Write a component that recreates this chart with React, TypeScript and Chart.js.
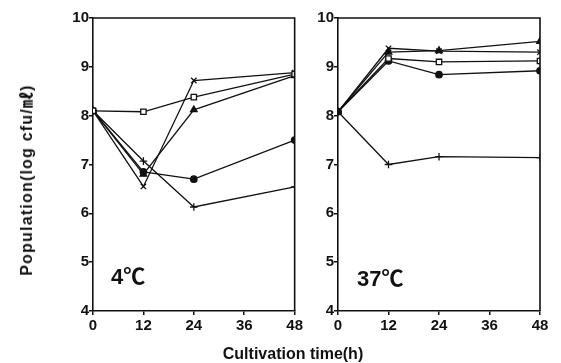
import React, { useEffect, useRef } from "react";
import { Chart, registerables } from "chart.js";

Chart.register(...registerables);

const hours = [0, 12, 24, 48];
const xTicks = [0, 12, 24, 36, 48];
const yTicks = [4, 5, 6, 7, 8, 9, 10];

// 4℃ panel
const c4Square = [8.1, 8.08, 8.38, 8.85];
const c4Cross = [8.1, 6.55, 8.72, 8.88];
const c4Triangle = [8.1, 6.8, 8.12, 8.82];
const c4Circle = [8.1, 6.85, 6.7, 7.5];
const c4Plus = [8.1, 7.07, 6.13, 6.54];

// 37℃ panel
const c37Cross = [8.08, 9.38, 9.32, 9.3];
const c37Triangle = [8.08, 9.3, 9.33, 9.52];
const c37Square = [8.08, 9.17, 9.1, 9.12];
const c37Circle = [8.08, 9.12, 8.84, 8.92];
const c37Plus = [8.08, 7.0, 7.16, 7.14];

const INK = "#111";
const FONT = "'Liberation Sans', Arial, sans-serif";

const boxPlugin = {
  id: "box",
  afterDraw(chart: any) {
    const { ctx, chartArea } = chart;
    ctx.save();
    ctx.strokeStyle = INK;
    ctx.lineWidth = 1.6;
    ctx.beginPath();
    ctx.moveTo(chartArea.left, chartArea.top);
    ctx.lineTo(chartArea.right, chartArea.top);
    ctx.lineTo(chartArea.right, chartArea.bottom);
    ctx.stroke();
    ctx.restore();
  },
};

function ds(values: number[], style: string, fill: string) {
  return {
    data: hours.map((h, i) => ({ x: h, y: values[i] })),
    borderColor: INK,
    borderWidth: 1.3,
    pointStyle: style,
    pointRadius: style === "circle" ? 3.2 : 3.8,
    pointBorderColor: INK,
    pointBackgroundColor: fill,
    pointBorderWidth: 1.3,
    tension: 0,
  };
}

function makeConfig(series: any[], yWidth: number, padRight: number) {
  return {
    type: "line",
    data: { datasets: series },
    plugins: [boxPlugin],
    options: {
      animation: false,
      responsive: false,
      maintainAspectRatio: false,
      events: [],
      layout: { padding: { top: 18, right: padRight, bottom: 0, left: 0 } },
      plugins: { legend: { display: false }, tooltip: { enabled: false } },
      scales: {
        x: {
          type: "linear",
          min: 0,
          max: 48,
          afterBuildTicks: (s: any) => {
            s.ticks = xTicks.map((v) => ({ value: v }));
          },
          afterFit: (s: any) => {
            s.height = 52;
          },
          ticks: {
            color: INK,
            padding: 2,
            maxRotation: 0,
            autoSkip: false,
            font: { family: FONT, size: 15, weight: "bold" },
          },
          grid: {
            drawOnChartArea: false,
            drawTicks: true,
            tickLength: 4,
            color: INK,
            lineWidth: 1.5,
          },
          border: { color: INK, width: 1.6 },
        },
        y: {
          type: "linear",
          min: 4,
          max: 10,
          afterBuildTicks: (s: any) => {
            s.ticks = yTicks.map((v) => ({ value: v }));
          },
          afterFit: (s: any) => {
            s.width = yWidth;
          },
          ticks: {
            color: INK,
            padding: 0,
            autoSkip: false,
            font: { family: FONT, size: 15, weight: "bold" },
          },
          grid: {
            drawOnChartArea: false,
            drawTicks: true,
            tickLength: 4,
            color: INK,
            lineWidth: 1.5,
          },
          border: { color: INK, width: 1.6 },
        },
      },
    },
  };
}

export default function App() {
  const ref1 = useRef<HTMLCanvasElement>(null);
  const ref2 = useRef<HTMLCanvasElement>(null);

  useEffect(() => {
    const s1 = [
      ds(c4Square, "rect", "#fff"),
      ds(c4Cross, "crossRot", INK),
      ds(c4Triangle, "triangle", INK),
      ds(c4Circle, "circle", INK),
      ds(c4Plus, "cross", INK),
    ];
    const s2 = [
      ds(c37Cross, "crossRot", INK),
      ds(c37Triangle, "triangle", INK),
      ds(c37Square, "rect", "#fff"),
      ds(c37Circle, "circle", INK),
      ds(c37Plus, "cross", INK),
    ];
    const ch1 = new Chart(ref1.current as any, makeConfig(s1, 93, 7) as any);
    const ch2 = new Chart(ref2.current as any, makeConfig(s2, 33, 21) as any);
    return () => {
      ch1.destroy();
      ch2.destroy();
    };
  }, []);

  const textBase: React.CSSProperties = {
    position: "absolute",
    fontFamily: FONT + ", 'Noto Sans CJK JP'",
    fontWeight: "bold",
    color: INK,
    whiteSpace: "nowrap",
  };

  return (
    <div
      style={{
        position: "absolute",
        left: 0,
        top: 0,
        width: 561,
        height: 363,
        background: "#fff",
        overflow: "hidden",
      }}
    >
      <canvas
        ref={ref1}
        width={305}
        height={363}
        style={{ position: "absolute", left: 0, top: 0, width: 305, height: 363 }}
      />
      <canvas
        ref={ref2}
        width={256}
        height={363}
        style={{ position: "absolute", left: 305, top: 0, width: 256, height: 363 }}
      />
      <div
        style={{
          ...textBase,
          left: 25,
          top: 180,
          fontSize: 16,
          letterSpacing: "1.2px",
          transform: "translate(-50%, -50%) rotate(-90deg)",
        }}
      >
        Population(log cfu/㎖)
      </div>
      <div
        style={{
          ...textBase,
          left: 293,
          top: 354,
          fontSize: 16,
          transform: "translate(-50%, -50%)",
        }}
      >
        Cultivation time(h)
      </div>
      <div style={{ ...textBase, left: 111, top: 258, fontSize: 22 }}>
        4℃
      </div>
      <div style={{ ...textBase, left: 357, top: 260, fontSize: 22 }}>
        37℃
      </div>
    </div>
  );
}
